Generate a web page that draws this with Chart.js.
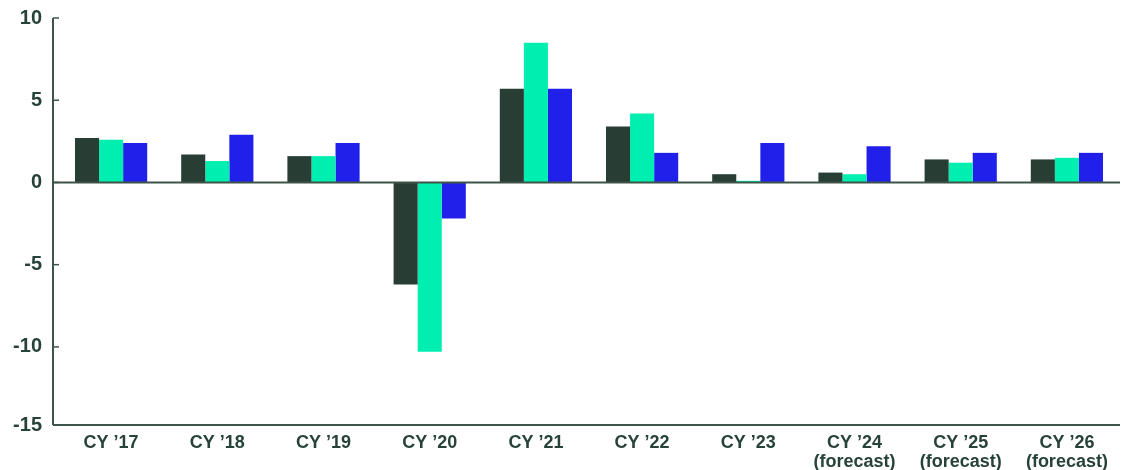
<!DOCTYPE html>
<html>
<head>
<meta charset="utf-8">
<script src="https://cdn.jsdelivr.net/npm/chart.js@4.4.1/dist/chart.umd.min.js"></script>
<style>
  html, body { margin: 0; padding: 0; background: #ffffff; }
  #wrap { width: 1128px; height: 470px; position: relative; }
</style>
</head>
<body>
<div id="wrap"><canvas id="growthChart"></canvas></div>
<script>
// === Data ===
const years = [
  'CY ’17', 'CY ’18', 'CY ’19', 'CY ’20', 'CY ’21',
  'CY ’22', 'CY ’23', ['CY ’24', '(forecast)'], ['CY ’25', '(forecast)'], ['CY ’26', '(forecast)']
];
const seriesA = [2.7, 1.7, 1.6, -6.2, 5.7, 3.4, 0.5, 0.6, 1.4, 1.4];
const seriesB = [2.6, 1.3, 1.6, -10.3, 8.5, 4.2, 0.1, 0.5, 1.2, 1.5];
const seriesC = [2.4, 2.9, 2.4, -2.2, 5.7, 1.8, 2.4, 2.2, 1.8, 1.8];
const yTicks = [10, 5, 0, -5, -10, -15];

// the axis stops a little short of -15; that label sits on the base line
const yMax = 10;
const yMin = -14.75;

const inkColor = '#27423a';
const lineColor = '#3f5449';

// === Axis lines: left spine with inward ticks, zero line, base line ===
const axisLines = {
  id: 'axisLines',
  afterDatasetsDraw(chart) {
    const { ctx, chartArea } = chart;
    const y = chart.scales.y;
    const spineX = chartArea.left - 5;
    ctx.save();
    ctx.strokeStyle = lineColor;
    ctx.lineWidth = 2;
    ctx.beginPath();
    ctx.moveTo(spineX, chartArea.top);
    ctx.lineTo(spineX, chartArea.bottom);
    ctx.stroke();

    ctx.lineWidth = 1.5;
    yTicks.filter(v => v >= yMin).forEach(v => {
      const py = y.getPixelForValue(v);
      ctx.beginPath();
      ctx.moveTo(spineX, py);
      ctx.lineTo(spineX + 6, py);
      ctx.stroke();
    });

    ctx.lineWidth = 2;
    [y.getPixelForValue(0), chartArea.bottom].forEach(py => {
      ctx.beginPath();
      ctx.moveTo(spineX, py);
      ctx.lineTo(chartArea.right, py);
      ctx.stroke();
    });
    ctx.restore();
  }
};

const barStyle = { barPercentage: 1, categoryPercentage: 0.68, borderWidth: 0 };

new Chart(document.getElementById('growthChart'), {
  type: 'bar',
  data: {
    labels: years,
    datasets: [
      { label: 'A', data: seriesA, backgroundColor: '#283e34', ...barStyle },
      { label: 'B', data: seriesB, backgroundColor: '#00efb0', ...barStyle },
      { label: 'C', data: seriesC, backgroundColor: '#2020ea', ...barStyle }
    ]
  },
  options: {
    responsive: true,
    maintainAspectRatio: false,
    animation: false,
    layout: { padding: { top: 18, right: 8, left: 0, bottom: 0 } },
    plugins: {
      legend: { display: false },
      tooltip: { enabled: false }
    },
    scales: {
      x: {
        grid: { display: false, drawTicks: false },
        border: { display: false },
        ticks: {
          color: inkColor,
          padding: 9,
          maxRotation: 0,
          autoSkip: false,
          font: { family: '"Liberation Sans", Arial, sans-serif', size: 18, weight: 'bold', lineHeight: 1.05 }
        },
        afterFit(scale) { scale.height = 45; }
      },
      y: {
        min: yMin,
        max: yMax,
        grid: { display: false, drawTicks: false },
        border: { display: false },
        afterBuildTicks(scale) {
          scale.ticks = yTicks.map(v => ({ value: Math.max(v, yMin) }));
        },
        ticks: {
          color: inkColor,
          padding: 16,
          callback: (value, i) => yTicks[i],
          font: { family: '"Liberation Sans", Arial, sans-serif', size: 20, weight: 'bold' }
        },
        afterFit(scale) {
          scale.width = 58;
          scale.paddingTop = 0;
          scale.paddingBottom = 0;
        }
      }
    }
  },
  plugins: [axisLines]
});
</script>
</body>
</html>
